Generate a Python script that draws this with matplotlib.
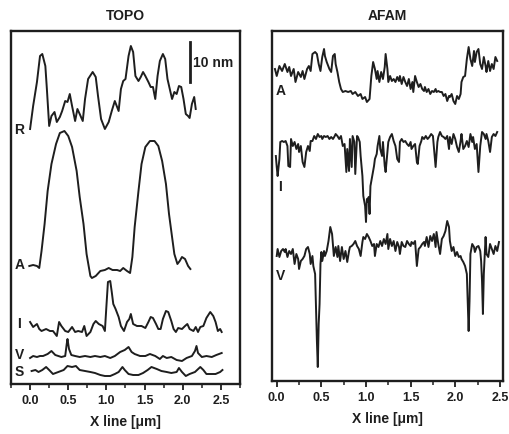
import matplotlib
matplotlib.use("Agg")
import matplotlib.pyplot as plt
from matplotlib.ticker import MultipleLocator

plt.rcParams['font.family'] = ['Liberation Sans', 'DejaVu Sans']

# ---------------- TOPO panel data (x in um, height in a.u.; 40 a.u. = 10 nm) ----------------
topo_R_x = [0.00, 0.04, 0.09, 0.13, 0.16, 0.20, 0.22, 0.25, 0.28, 0.32,
            0.35, 0.39, 0.42, 0.46, 0.49, 0.52, 0.55, 0.59, 0.62, 0.65,
            0.69, 0.72, 0.76, 0.82, 0.86, 0.89, 0.93, 0.98, 1.03, 1.07,
            1.11, 1.16, 1.19, 1.22, 1.25, 1.29, 1.32, 1.35, 1.38, 1.42,
            1.45, 1.48, 1.51, 1.55, 1.58, 1.61, 1.64, 1.67, 1.70, 1.74,
            1.77, 1.80, 1.83, 1.86, 1.89, 1.92, 1.95, 1.98, 2.01, 2.04,
            2.07, 2.09, 2.12, 2.15, 2.17]
topo_R_y = [255, 278, 302, 328, 330, 318, 295, 258, 268, 272,
            262, 267, 273, 283, 282, 290, 278, 263, 275, 270,
            263, 285, 305, 312, 307, 288, 265, 255, 262, 273,
            283, 273, 295, 303, 305, 328, 338, 332, 308, 303,
            307, 312, 308, 302, 297, 297, 285, 308, 323, 330,
            325, 305, 295, 285, 292, 290, 298, 297, 285, 270,
            268, 266, 280, 287, 275]

topo_A_x = [-0.01, 0.04, 0.09, 0.12, 0.15, 0.19, 0.23, 0.28, 0.34, 0.39,
            0.45, 0.50, 0.55, 0.61, 0.65, 0.70, 0.74, 0.79, 0.81, 0.86,
            0.92, 0.98, 1.03, 1.08, 1.14, 1.18, 1.22, 1.27, 1.31, 1.34,
            1.37, 1.42, 1.46, 1.51, 1.57, 1.63, 1.68, 1.73, 1.78, 1.82,
            1.86, 1.89, 1.93, 1.96, 1.99, 2.03, 2.07, 2.10]
topo_A_y = [118, 119, 118, 116, 133, 160, 193, 220, 240, 251,
            253, 248, 237, 213, 187, 160, 130, 108, 106, 108,
            113, 114, 116, 114, 114, 113, 116, 113, 111, 127,
            157, 193, 220, 237, 243, 243, 238, 223, 200, 170,
            147, 130, 120, 123, 127, 125, 118, 115]

topo_I_x = [0.00, 0.04, 0.09, 0.12, 0.15, 0.21, 0.26, 0.30, 0.35, 0.38,
            0.41, 0.46, 0.50, 0.55, 0.59, 0.63, 0.68, 0.71, 0.74, 0.79,
            0.83, 0.86, 0.90, 0.95, 0.98, 1.00, 1.02, 1.05, 1.07, 1.09,
            1.12, 1.16, 1.19, 1.23, 1.27, 1.30, 1.32, 1.35, 1.40, 1.46,
            1.51, 1.55, 1.58, 1.61, 1.65, 1.68, 1.71, 1.74, 1.78, 1.81,
            1.85, 1.88, 1.91, 1.94, 1.99, 2.03, 2.06, 2.09, 2.14, 2.17,
            2.20, 2.23, 2.27, 2.31, 2.36, 2.40, 2.43, 2.46, 2.49, 2.51]
topo_I_y = [62, 57, 60, 55, 53, 55, 53, 53, 48, 62,
            58, 53, 52, 57, 52, 53, 52, 58, 48, 52,
            60, 63, 60, 58, 53, 78, 102, 103, 92, 80,
            75, 67, 58, 53, 62, 65, 70, 60, 58, 58,
            56, 62, 67, 66, 60, 55, 55, 65, 73, 72,
            63, 55, 52, 56, 55, 58, 60, 55, 53, 57,
            52, 57, 58, 66, 72, 68, 62, 53, 55, 52]

topo_V_x = [0.00, 0.04, 0.09, 0.13, 0.17, 0.23, 0.28, 0.33, 0.37, 0.41,
            0.46, 0.48, 0.49, 0.51, 0.54, 0.59, 0.65, 0.72, 0.79, 0.85,
            0.92, 0.98, 1.05, 1.11, 1.18, 1.24, 1.29, 1.33, 1.37, 1.44,
            1.51, 1.57, 1.64, 1.70, 1.74, 1.79, 1.85, 1.92, 1.99, 2.05,
            2.12, 2.16, 2.18, 2.20, 2.25, 2.31, 2.38, 2.44, 2.51]
topo_V_y = [26, 28, 27, 28, 28, 30, 33, 29, 28, 27,
            28, 40, 45, 35, 29, 28, 27, 28, 27, 28,
            27, 28, 26, 28, 32, 34, 37, 32, 30, 28,
            28, 30, 28, 25, 28, 26, 27, 24, 23, 26,
            28, 33, 38, 31, 27, 28, 27, 29, 31]

topo_S_x = [0.02, 0.07, 0.11, 0.16, 0.21, 0.25, 0.30, 0.37, 0.44, 0.49,
            0.55, 0.60, 0.65, 0.72, 0.79, 0.85, 0.92, 0.98, 1.05, 1.11,
            1.16, 1.21, 1.24, 1.29, 1.35, 1.42, 1.48, 1.54, 1.59, 1.66,
            1.72, 1.79, 1.85, 1.92, 1.95, 1.99, 2.04, 2.09, 2.16, 2.23,
            2.27, 2.31, 2.38, 2.43, 2.49, 2.52]
topo_S_y = [13, 14, 12, 14, 17, 14, 10, 12, 14, 18,
            17, 18, 14, 13, 12, 11, 9, 8, 8, 10,
            12, 17, 14, 10, 9, 9, 11, 14, 17, 15,
            13, 12, 11, 12, 16, 12, 8, 10, 12, 17,
            14, 10, 10, 10, 12, 14]

# ---------------- AFAM panel data (x in um, signal in a.u.) ----------------
afam_A_x = [-0.02, 0.00, 0.03, 0.06, 0.09, 0.12, 0.14, 0.16, 0.19, 0.21,
            0.24, 0.27, 0.29, 0.31, 0.34, 0.36, 0.38, 0.40, 0.43, 0.45,
            0.47, 0.49, 0.51, 0.53, 0.54, 0.56, 0.59, 0.61, 0.63, 0.65,
            0.66, 0.68, 0.70, 0.72, 0.74, 0.77, 0.80, 0.83, 0.85, 0.88,
            0.91, 0.94, 0.96, 0.99, 1.01, 1.04, 1.06, 1.08, 1.10, 1.12,
            1.13, 1.15, 1.17, 1.19, 1.21, 1.22, 1.24, 1.25, 1.27, 1.29,
            1.31, 1.33, 1.35, 1.37, 1.38, 1.40, 1.42, 1.44, 1.46, 1.48,
            1.50, 1.52, 1.53, 1.55, 1.57, 1.59, 1.61, 1.63, 1.65, 1.66,
            1.68, 1.70, 1.72, 1.74, 1.76, 1.78, 1.79, 1.81, 1.83, 1.85,
            1.87, 1.89, 1.91, 1.93, 1.94, 1.96, 1.98, 2.00, 2.02, 2.04,
            2.06, 2.07, 2.09, 2.11, 2.13, 2.15, 2.17, 2.19, 2.21, 2.22,
            2.24, 2.26, 2.28, 2.30, 2.32, 2.34, 2.35, 2.37, 2.39, 2.41,
            2.43, 2.45, 2.47]
afam_A_y = [312, 305, 315, 310, 317, 309, 314, 305, 312, 299,
            309, 304, 310, 302, 312, 315, 310, 327, 329, 327,
            317, 310, 324, 332, 325, 319, 312, 309, 325, 327,
            317, 309, 299, 292, 289, 290, 289, 290, 287, 289,
            285, 287, 282, 284, 279, 282, 305, 319, 312, 302,
            310, 299, 309, 302, 314, 327, 312, 299, 305, 300,
            302, 299, 304, 300, 305, 297, 304, 299, 295, 302,
            292, 299, 289, 305, 299, 294, 297, 292, 290, 294,
            289, 292, 287, 290, 289, 292, 289, 290, 289, 289,
            285, 287, 280, 285, 284, 287, 280, 277, 285, 282,
            287, 299, 304, 305, 322, 334, 322, 315, 330, 319,
            329, 332, 317, 312, 324, 315, 309, 320, 310, 317,
            312, 324, 320]

afam_I_x = [-0.01, 0.00, 0.01, 0.03, 0.04, 0.06, 0.08, 0.10, 0.12, 0.13,
            0.15, 0.16, 0.18, 0.20, 0.22, 0.24, 0.25, 0.27, 0.29, 0.31,
            0.33, 0.35, 0.37, 0.38, 0.40, 0.42, 0.44, 0.46, 0.48, 0.50,
            0.51, 0.53, 0.55, 0.57, 0.59, 0.61, 0.63, 0.65, 0.66, 0.68,
            0.70, 0.72, 0.74, 0.76, 0.78, 0.79, 0.81, 0.82, 0.84, 0.85,
            0.87, 0.88, 0.90, 0.91, 0.93, 0.94, 0.96, 0.97, 0.99, 1.00,
            1.01, 1.02, 1.03, 1.04, 1.05, 1.07, 1.09, 1.10, 1.12, 1.13,
            1.15, 1.16, 1.18, 1.19, 1.21, 1.22, 1.24, 1.25, 1.27, 1.29,
            1.31, 1.33, 1.35, 1.37, 1.38, 1.40, 1.42, 1.44, 1.46, 1.48,
            1.50, 1.51, 1.53, 1.55, 1.57, 1.58, 1.60, 1.62, 1.63, 1.65,
            1.67, 1.69, 1.71, 1.73, 1.75, 1.76, 1.78, 1.80, 1.81, 1.83,
            1.85, 1.87, 1.89, 1.91, 1.93, 1.94, 1.96, 1.98, 2.00, 2.02,
            2.04, 2.06, 2.07, 2.09, 2.11, 2.13, 2.15, 2.17, 2.19, 2.20,
            2.22, 2.24, 2.26, 2.28, 2.30, 2.32, 2.34, 2.35, 2.37, 2.39,
            2.41, 2.43, 2.45, 2.47]
afam_I_y = [225, 214, 205, 222, 239, 240, 239, 240, 235, 215,
            214, 242, 235, 239, 232, 237, 229, 235, 219, 214,
            229, 235, 230, 240, 240, 245, 242, 247, 244, 245,
            242, 245, 244, 245, 242, 244, 242, 245, 247, 245,
            242, 245, 235, 237, 209, 232, 210, 242, 214, 245,
            239, 207, 245, 244, 239, 225, 205, 185, 175, 159,
            182, 179, 184, 167, 195, 205, 215, 222, 227, 235,
            245, 232, 225, 239, 215, 209, 229, 239, 244, 247,
            240, 235, 222, 219, 239, 242, 239, 240, 237, 235,
            239, 232, 235, 237, 219, 217, 235, 240, 244, 242,
            245, 242, 244, 247, 245, 235, 214, 239, 244, 249,
            245, 244, 242, 245, 232, 244, 237, 247, 242, 234,
            229, 240, 247, 232, 235, 240, 234, 247, 239, 244,
            232, 237, 209, 235, 249, 247, 242, 247, 240, 229,
            244, 247, 245, 249]

afam_V_x = [0.00, 0.01, 0.03, 0.05, 0.07, 0.09, 0.10, 0.12, 0.14, 0.16,
            0.18, 0.20, 0.22, 0.24, 0.25, 0.27, 0.29, 0.31, 0.33, 0.35,
            0.37, 0.38, 0.40, 0.41, 0.43, 0.44, 0.45, 0.46, 0.47, 0.48,
            0.49, 0.50, 0.51, 0.53, 0.54, 0.56, 0.58, 0.60, 0.62, 0.64,
            0.66, 0.68, 0.69, 0.71, 0.73, 0.75, 0.77, 0.79, 0.81, 0.82,
            0.84, 0.86, 0.88, 0.90, 0.92, 0.94, 0.96, 0.97, 0.99, 1.01,
            1.03, 1.05, 1.07, 1.09, 1.10, 1.12, 1.14, 1.16, 1.18, 1.20,
            1.22, 1.24, 1.25, 1.27, 1.29, 1.31, 1.33, 1.35, 1.37, 1.38,
            1.40, 1.42, 1.44, 1.46, 1.48, 1.50, 1.51, 1.53, 1.55, 1.57,
            1.59, 1.61, 1.63, 1.65, 1.66, 1.68, 1.70, 1.72, 1.74, 1.76,
            1.78, 1.79, 1.81, 1.83, 1.85, 1.87, 1.89, 1.91, 1.93, 1.94,
            1.96, 1.98, 2.00, 2.02, 2.04, 2.06, 2.07, 2.09, 2.11, 2.13,
            2.14, 2.15, 2.16, 2.17, 2.19, 2.21, 2.22, 2.24, 2.26, 2.28,
            2.29, 2.30, 2.31, 2.32, 2.34, 2.35, 2.37, 2.39, 2.41, 2.43,
            2.45, 2.47, 2.49]
afam_V_y = [125, 132, 124, 130, 132, 129, 132, 124, 130, 127,
            132, 117, 127, 122, 112, 120, 122, 125, 132, 134,
            127, 117, 125, 115, 107, 74, 40, 14, 57, 77,
            117, 129, 120, 130, 125, 130, 140, 154, 147, 125,
            134, 124, 135, 120, 134, 122, 130, 119, 130, 134,
            135, 137, 140, 135, 132, 125, 139, 144, 142, 147,
            144, 140, 135, 137, 125, 137, 134, 140, 135, 142,
            137, 147, 132, 142, 135, 140, 130, 139, 134, 127,
            139, 135, 134, 140, 137, 135, 139, 137, 140, 115,
            132, 134, 137, 139, 135, 144, 134, 145, 140, 147,
            134, 149, 137, 127, 142, 145, 150, 160, 154, 140,
            130, 134, 125, 129, 124, 125, 122, 119, 115, 107,
            80, 50, 80, 127, 137, 134, 129, 134, 135, 130,
            120, 100, 67, 107, 144, 127, 124, 137, 132, 127,
            135, 130, 139]

x_ticks = [0.0, 0.5, 1.0, 1.5, 2.0, 2.5]
x_ticklabels = ['0.0', '0.5', '1.0', '1.5', '2.0', '2.5']
topo_labels = [('R', 255), ('A', 120), ('I', 61), ('V', 30), ('S', 13)]
afam_labels = [('A', 291), ('I', 195), ('V', 106)]

INK = '#1e1e1e'
LW = 1.4

fig = plt.figure(figsize=(5.09, 4.35), dpi=100)
ax1 = fig.add_axes([11 / 509, 1 - 385 / 435, 229 / 509, 353 / 435])
ax2 = fig.add_axes([272 / 509, 1 - 382 / 435, 231 / 509, 350 / 435])

for xs, ys in [(topo_R_x, topo_R_y), (topo_A_x, topo_A_y), (topo_I_x, topo_I_y),
               (topo_V_x, topo_V_y), (topo_S_x, topo_S_y)]:
    ax1.plot(xs, ys, color=INK, lw=LW, solid_joinstyle='round')
for xs, ys in [(afam_A_x, afam_A_y), (afam_I_x, afam_I_y), (afam_V_x, afam_V_y)]:
    ax2.plot(xs, ys, color=INK, lw=LW, solid_joinstyle='round')

ax1.set_xlim(-0.25, 2.75)
ax1.set_ylim(0, 353)
ax2.set_xlim(-0.053, 2.535)
ax2.set_ylim(0, 350)

for ax, title in [(ax1, 'TOPO'), (ax2, 'AFAM')]:
    ax.set_yticks([])
    ax.set_xticks(x_ticks)
    ax.set_xticklabels(x_ticklabels, fontweight='bold')
    ax.xaxis.set_minor_locator(MultipleLocator(0.25))
    ax.tick_params(axis='x', which='major', direction='out', length=4, width=1.3,
                   labelsize=9, pad=3, colors=INK)
    ax.tick_params(axis='x', which='minor', direction='out', length=3, width=1.1, colors=INK)
    for sp in ax.spines.values():
        sp.set_linewidth(1.7)
        sp.set_color(INK)
    ax.set_xlabel('X line [\u03bcm]', fontsize=10, fontweight='bold', labelpad=6, color=INK)
    ax.set_title(title, fontsize=10, fontweight='bold', pad=9, color=INK)

for lab, yv in topo_labels:
    ax1.text(-0.14, yv, lab, ha='center', va='center', fontsize=10,
             fontweight='bold', color=INK)
for lab, yv in afam_labels:
    ax2.text(0.04, yv, lab, ha='center', va='center', fontsize=10,
             fontweight='bold', color=INK)

# 10 nm scale bar
ax1.plot([2.094, 2.094], [302, 342], color=INK, lw=2.0)
ax1.text(2.14, 322, '10 nm', ha='left', va='center', fontsize=10,
         fontweight='bold', color=INK)

fig.savefig('out.png', dpi=100)
